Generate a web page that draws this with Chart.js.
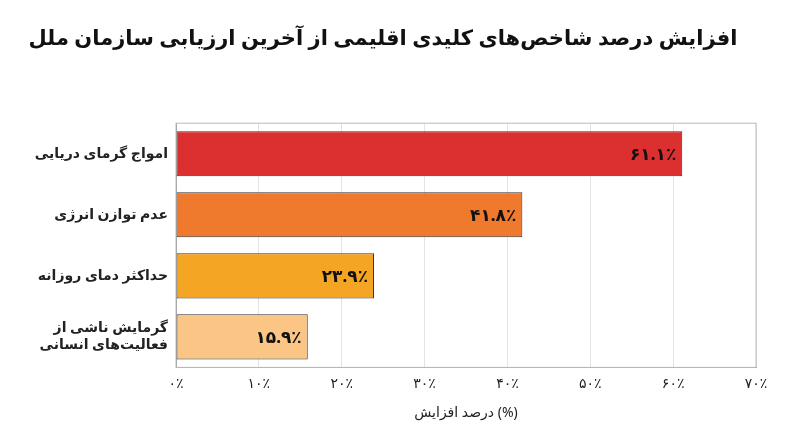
<!DOCTYPE html>
<html>
<head>
<meta charset="utf-8">
<script src="https://cdn.jsdelivr.net/npm/chart.js@4"></script>
<style>
  body { margin: 0; background: #fff; }
  #wrap { width: 800px; height: 447px; position: relative; }
</style>
</head>
<body>
<div id="wrap"><canvas id="chart"></canvas></div>
<script>
// data
var categories = [
  "امواج گرمای دریایی",
  "عدم توازن انرژی",
  "حداکثر دمای روزانه",
  ["گرمایش ناشی از", "فعالیت‌های انسانی"]
];
var values = [61.1, 41.8, 23.9, 15.9];
var barColors = ["#dc2f2f", "#ef7a2e", "#f5a524", "#fbc585"];
var tickValues = [0, 10, 20, 30, 40, 50, 60, 70];

// تبدیل ارقام به فارسی
function toFa(str) {
  var d = "۰۱۲۳۴۵۶۷۸۹";
  return String(str).replace(/[0-9]/g, function (c) { return d[c]; });
}

var font = "'Noto Sans', 'DejaVu Sans', sans-serif";

// برچسب مقدار داخل میله
var valueLabels = {
  id: "valueLabels",
  afterDatasetsDraw: function (chart) {
    var ctx = chart.ctx;
    var meta = chart.getDatasetMeta(0);
    ctx.save();
    ctx.font = "bold 17px " + font;
    ctx.fillStyle = "#111";
    ctx.textAlign = "right";
    ctx.textBaseline = "middle";
    meta.data.forEach(function (bar, i) {
      ctx.fillText(toFa(values[i].toFixed(1)) + "٪", bar.x - 6, bar.y + 1);
    });
    ctx.restore();
  }
};

var ctx = document.getElementById("chart").getContext("2d");
var myChart = new Chart(ctx, {
  type: "bar",
  data: {
    labels: categories,
    datasets: [{
      data: values,
      backgroundColor: barColors,
      borderColor: "#333",
      borderWidth: 1,
      borderSkipped: false,
      categoryPercentage: 1,
      barPercentage: 0.74
    }]
  },
  options: {
    indexAxis: "y",
    responsive: true,
    maintainAspectRatio: false,
    animation: false,
    layout: { padding: { left: 10, right: 44, top: 10, bottom: 22 } },
    plugins: {
      legend: { display: false },
      tooltip: { enabled: false },
      title: {
        display: true,
        text: "افزایش درصد شاخص‌های کلیدی اقلیمی از آخرین ارزیابی سازمان ملل",
        font: { family: font, size: 21, weight: "bold" },
        color: "#111",
        padding: { top: 16, bottom: 72 }
      }
    },
    scales: {
      x: {
        min: 0,
        max: 70,
        afterBuildTicks: function (axis) {
          axis.ticks = tickValues.map(function (v) { return { value: v }; });
        },
        ticks: {
          callback: function (v) { return toFa(v) + "٪"; },
          font: { family: font, size: 14 },
          color: "#222",
          padding: 8
        },
        grid: { color: "#e3e3e3", drawTicks: false },
        border: { color: "#999" },
        title: {
          display: true,
          text: "درصد افزایش (%)",
          font: { family: font, size: 14 },
          color: "#222",
          padding: { top: 4 }
        }
      },
      y: {
        afterFit: function (axis) { axis.width = 166; },
        ticks: {
          font: { family: font, size: 14, weight: "600" },
          color: "#222",
          padding: 8
        },
        grid: { display: false, drawTicks: false },
        border: { color: "#999" }
      }
    }
  },
  plugins: [valueLabels, {
    id: "frame",
    afterDraw: function (chart) {
      var a = chart.chartArea, c = chart.ctx;
      c.save();
      c.strokeStyle = "#bbb";
      c.lineWidth = 1;
      c.strokeRect(a.left, a.top, a.right - a.left, a.bottom - a.top);
      c.restore();
    }
  }]
});
</script>
</body>
</html>
